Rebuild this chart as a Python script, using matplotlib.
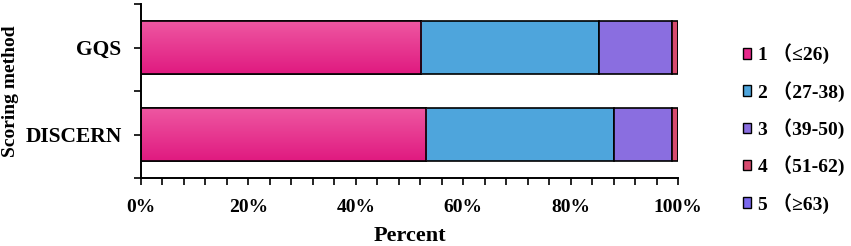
import matplotlib
matplotlib.use("Agg")
import matplotlib.pyplot as plt
import numpy as np
from matplotlib.colors import LinearSegmentedColormap
from matplotlib.patches import Patch
from matplotlib.ticker import FixedLocator, PercentFormatter

categories = ["GQS", "DISCERN"]
levels = ["1 （≤26)", "2 （27-38)", "3 （39-50)", "4 （51-62)", "5 （≥63)"]
gqs = [52.2, 33.0, 13.6, 1.2, 0.0]
discern = [53.1, 34.9, 10.9, 1.1, 0.0]
colors = ["#E8288C", "#4EA5DC", "#8A6EE0", "#D64A6E", "#7B68EE"]

plt.rcParams["font.family"] = ["Liberation Serif", "Noto Sans CJK SC"]
plt.rcParams["font.weight"] = "bold"

fig = plt.figure(figsize=(8.51, 2.46), dpi=100)
ax = fig.add_axes([141/851, 1-178/246, (678-141)/851, (178-4)/246])

data = np.array([gqs, discern])
ypos = np.arange(len(categories))
left = np.zeros(len(categories))
pink_cmap = LinearSegmentedColormap.from_list("pk", ["#EE58A2", "#E01A80"])
for j in range(data.shape[1]):
    vals = data[:, j] / 100.0
    bars = ax.barh(ypos, vals, left=left, height=0.61, color=colors[j],
                   edgecolor="black", linewidth=1.2, zorder=2)
    if j == 0:
        for b in bars:
            x0, y0 = b.get_x(), b.get_y()
            w, h = b.get_width(), b.get_height()
            grad = np.linspace(0, 1, 100).reshape(-1, 1)
            im = ax.imshow(grad, cmap=pink_cmap, aspect="auto",
                           extent=[x0, x0 + w, y0 + h, y0], origin="upper",
                           zorder=2.5)
            im.set_clip_path(b)
            ax.add_patch(plt.Rectangle((x0, y0), w, h, fill=False,
                                       edgecolor="black", linewidth=1.2, zorder=3))
    left += vals

ax.set_xlim(0, 1.0)
ax.set_ylim(1.5, -0.5)
ax.set_yticks(ypos)
ax.set_yticklabels(categories, fontsize=15.5, fontweight="bold")
ax.yaxis.set_minor_locator(FixedLocator([-0.5, 0.5, 1.5]))
ax.set_xticks(np.arange(0, 1.01, 0.2))
ax.xaxis.set_major_formatter(PercentFormatter(1.0, decimals=0))
ax.xaxis.set_minor_locator(FixedLocator(np.arange(0, 1.001, 0.04)))
ax.tick_params(axis="x", which="both", direction="out", length=5, width=1.2, labelsize=14, pad=10)
ax.tick_params(axis="y", which="both", direction="out", length=5, width=1.2, labelsize=15.5, pad=9)
for lbl in ax.get_xticklabels():
    lbl.set_fontweight("bold")
for s in ["top", "right"]:
    ax.spines[s].set_visible(False)
for s in ["left", "bottom"]:
    ax.spines[s].set_linewidth(1.4)

ax.set_xlabel("Percent", fontsize=16, fontweight="bold", labelpad=7)
fig.text(11/851, 1-91/246, "Scoring method", rotation=90, ha="center", va="center",
         fontsize=14, fontweight="bold")

handles = [Patch(facecolor=c, edgecolor="black", linewidth=1.0) for c in colors]
leg = fig.legend(handles, levels, loc="upper left", bbox_to_anchor=(725/851, 1-26/246),
                 frameon=False, handlelength=0.45, handleheight=0.45,
                 handletextpad=0.35, labelspacing=0.85, prop={"weight": "bold", "size": 14})

fig.savefig("out.png", dpi=100)
